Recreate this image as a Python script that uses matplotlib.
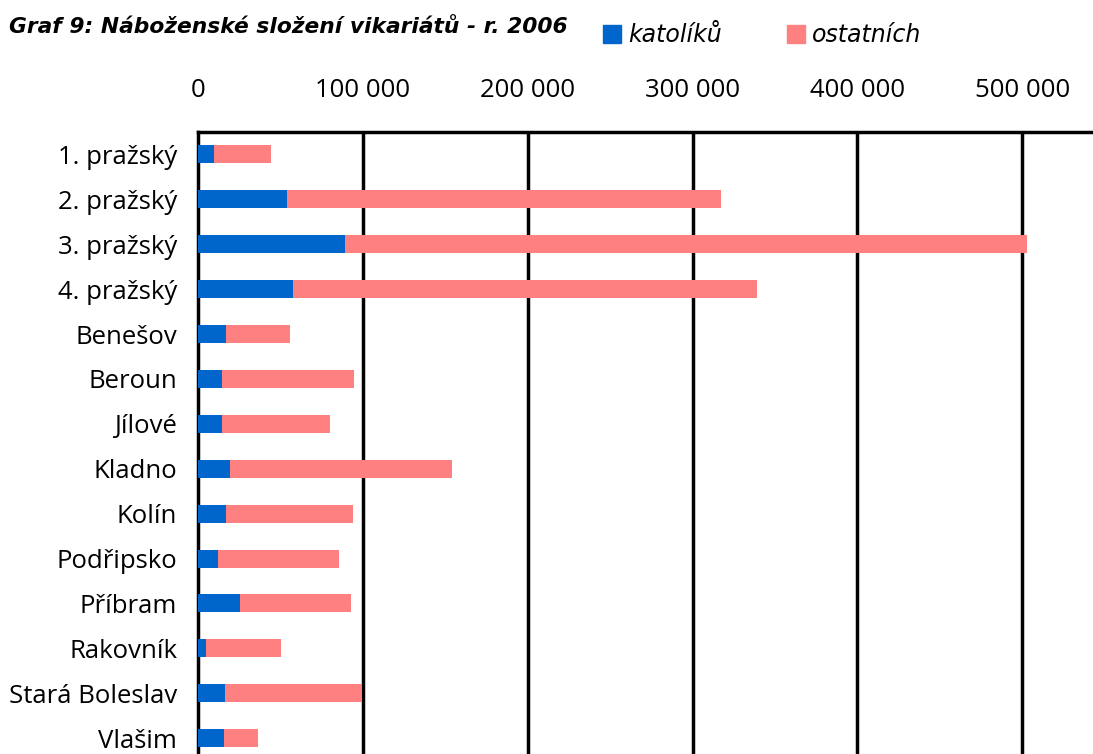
import numpy as np
import matplotlib.pyplot as plt
from matplotlib.patches import Rectangle

# vicariates, top to bottom
vikariaty = ['1. pražský', '2. pražský', '3. pražský', '4. pražský', 'Benešov', 'Beroun',
             'Jílové', 'Kladno', 'Kolín', 'Podřipsko', 'Příbram', 'Rakovník',
             'Stará Boleslav', 'Vlašim']
katoliku = [9700, 54000, 89200, 57600, 17000, 14600, 14600, 19400, 17000, 12100,
            25500, 4900, 16400, 15800]
celkem = [44300, 317400, 503000, 339200, 55800, 94700, 80100, 154100, 94000, 85600,
          92800, 50400, 99500, 36400]
ostatnich = [c - k for c, k in zip(celkem, katoliku)]
x_ticks = [0, 100000, 200000, 300000, 400000, 500000]

blue = '#0066cc'
pink = '#ff8080'
plt.rcParams['font.family'] = ['Open Sans', 'DejaVu Sans']

fig = plt.figure(figsize=(10.93, 7.54), dpi=100)
ax = fig.add_axes([198 / 1093, 1 - 760.6 / 754, 989 / 1093, (760.6 - 132) / 754])

y = np.arange(len(vikariaty))
ax.barh(y, katoliku, height=0.4, color=blue, zorder=3)
ax.barh(y, ostatnich, left=katoliku, height=0.4, color=pink, zorder=3)

ax.set_xlim(0, 600000)
ax.set_ylim(len(vikariaty) - 0.5, -0.5)
ax.set_yticks(y)
ax.set_yticklabels(vikariaty, fontsize=18.5)
ax.set_xticks(x_ticks)
ax.set_xticklabels([f'{v:,}'.replace(',', ' ') for v in x_ticks], fontsize=18.5)
ax.xaxis.tick_top()
ax.tick_params(axis='x', length=0, pad=21)
ax.tick_params(axis='y', length=0, pad=15)
for v in x_ticks[1:]:
    ax.axvline(v, color='black', lw=2.5, zorder=2)
for s in ['top', 'left']:
    ax.spines[s].set_linewidth(2.5)
for s in ['right', 'bottom']:
    ax.spines[s].set_visible(False)

# title and legend along the top
fig.text(568 / 1093, 1 - 33 / 754, 'Graf 9: Náboženské složení vikariátů - r. 2006',
         ha='right', va='baseline', fontsize=15.7, fontweight='bold', style='italic',
         family='DejaVu Sans')
fig.patches.append(Rectangle((603 / 1093, 1 - 43 / 754), 18 / 1093, 18 / 754,
                             color=blue, transform=fig.transFigure))
fig.text(628 / 1093, 1 - 42 / 754, 'katolíků', ha='left', va='baseline',
         fontsize=17, style='italic', family='DejaVu Sans')
fig.patches.append(Rectangle((787 / 1093, 1 - 43 / 754), 18 / 1093, 18 / 754,
                             color=pink, transform=fig.transFigure))
fig.text(812 / 1093, 1 - 42 / 754, 'ostatních', ha='left', va='baseline',
         fontsize=17, style='italic', family='DejaVu Sans')

fig.savefig('out.png', dpi=100)
